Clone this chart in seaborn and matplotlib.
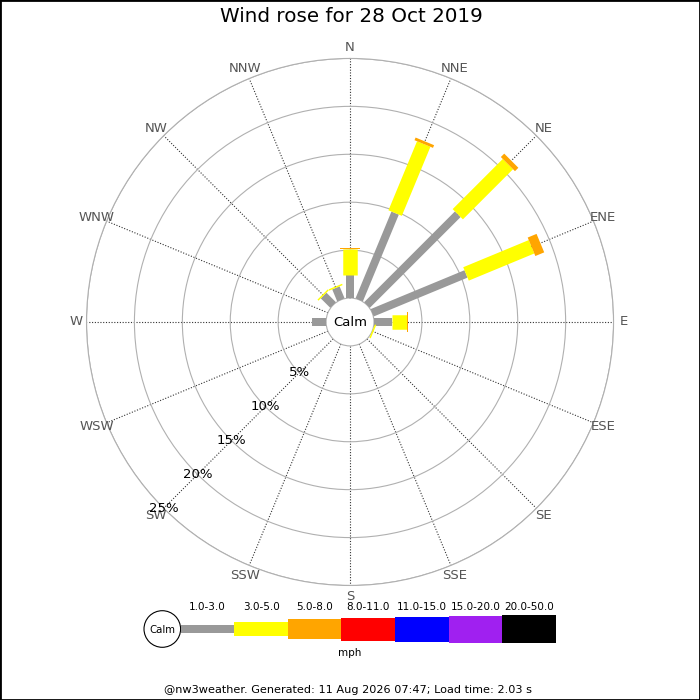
import numpy as np
import matplotlib
matplotlib.use('Agg')
import matplotlib.pyplot as plt
from matplotlib.patches import Circle
import seaborn as sns

# wind rose data (% of time)
directions = ['N', 'NNE', 'NE', 'ENE', 'E', 'ESE', 'SE', 'SSE',
              'S', 'SSW', 'SW', 'WSW', 'W', 'WNW', 'NW', 'NNW']
pct_1_3 = [2.4, 9.8, 13.4, 10.6, 1.85, 0, 0, 0, 0, 0, 0, 0, 1.45, 0, 1.4, 1.35]
pct_3_5 = [2.7, 7.8, 7.4, 7.4, 1.6, 0.15, 0, 0, 0, 0, 0, 0, 0, 0, 0.15, 0.15]
pct_5_8 = [0.1, 0.3, 0.5, 1.0, 0.15, 0, 0, 0, 0, 0, 0, 0, 0, 0, 0, 0]
zeros = [0] * 16
bands = [pct_1_3, pct_3_5, pct_5_8, zeros, zeros, zeros, zeros]

band_labels = ['1.0-3.0', '3.0-5.0', '5.0-8.0', '8.0-11.0',
               '11.0-15.0', '15.0-20.0', '20.0-50.0']
band_colors = sns.color_palette(['#999999', '#ffff00', '#ffa500', '#ff0000',
                                 '#0000ff', '#a020f0', '#000000'])
band_px = [8, 14.5, 20, 23, 25, 27, 28.5]   # bar thickness in pixels

ring_pcts = [5, 10, 15, 20, 25]

title = 'Wind rose for 28 Oct 2019'
footer = '@nw3weather. Generated: 11 Aug 2026 07:47; Load time: 2.03 s'

sns.set_style('white')
plt.rcParams['font.family'] = ['DejaVu Sans']
plt.rcParams['text.color'] = 'black'

fig = plt.figure(figsize=(7, 7), dpi=100)

# polar rose: centre (350,322) px, outer radius ~263 px
ax = fig.add_axes([0.1236, 0.1636, 0.7529, 0.7529], projection='polar')
ax.set_theta_zero_location('N')
ax.set_theta_direction(-1)
ax.set_ylim(0, 25)
ax.set_rorigin(-2.5)
ax.set_axisbelow(True)

thetas = np.deg2rad(np.arange(16) * 22.5)
ax.set_xticks(thetas)
ax.set_xticklabels([])
ax.set_yticks(ring_pcts)
ax.set_yticklabels([])
ax.xaxis.grid(True, linestyle=(0, (1, 1.5)), color='#333333', linewidth=0.8)
ax.yaxis.grid(True, linestyle='-', color='#b0b0b0', linewidth=0.8)
for name, sp in ax.spines.items():
    sp.set_color('#b0b0b0')
    sp.set_linewidth(0.8)

for i, th in enumerate(thetas):
    bottom = 0
    for b, vals in enumerate(bands):
        v = vals[i]
        if v <= 0:
            continue
        ax.plot([th, th], [bottom, bottom + v], color=band_colors[b],
                lw=band_px[b] * 0.72, solid_capstyle='butt', clip_on=False,
                zorder=3 + b)
        bottom += v

for th, d in zip(thetas, directions):
    ax.text(th, 26.1, d, ha='center', va='center', color='#555555', fontsize=9.5)

for p in ring_pcts:
    ax.text(np.deg2rad(225), p, f'{p}%', ha='center', va='center',
            color='black', fontsize=9.5)

# overlay in pixel coordinates for title, legend and footer
ov = fig.add_axes([0, 0, 1, 1], facecolor='none')
ov.set_xlim(0, 700)
ov.set_ylim(700, 0)
ov.set_xticks([])
ov.set_yticks([])
for sp in ov.spines.values():
    sp.set_color('black')
    sp.set_linewidth(2)

ov.text(351, 17, title, ha='center', va='center', fontsize=14.3)
ov.text(350, 322, 'Calm', ha='center', va='center', fontsize=9.5)

# legend
ov.add_patch(Circle((162.3, 629), 18.3, facecolor='white', edgecolor='black', lw=0.8))
ov.text(162.3, 630, 'Calm', ha='center', va='center', fontsize=7.3)
seg_w = 53.6
centers = [180.7 + seg_w * (k + 0.5) for k in range(len(band_labels))]
ov.bar(centers, band_px, width=seg_w, bottom=[629 - h / 2 for h in band_px],
       color=band_colors, linewidth=0)
for c, lab in zip(centers, band_labels):
    ov.text(c, 607, lab, ha='center', va='center', fontsize=7.5)
ov.text(350, 653, 'mph', ha='center', va='center', fontsize=7.5)

ov.text(348, 690, footer, ha='center', va='center', fontsize=8.1)

fig.savefig('out.png', dpi=100)
